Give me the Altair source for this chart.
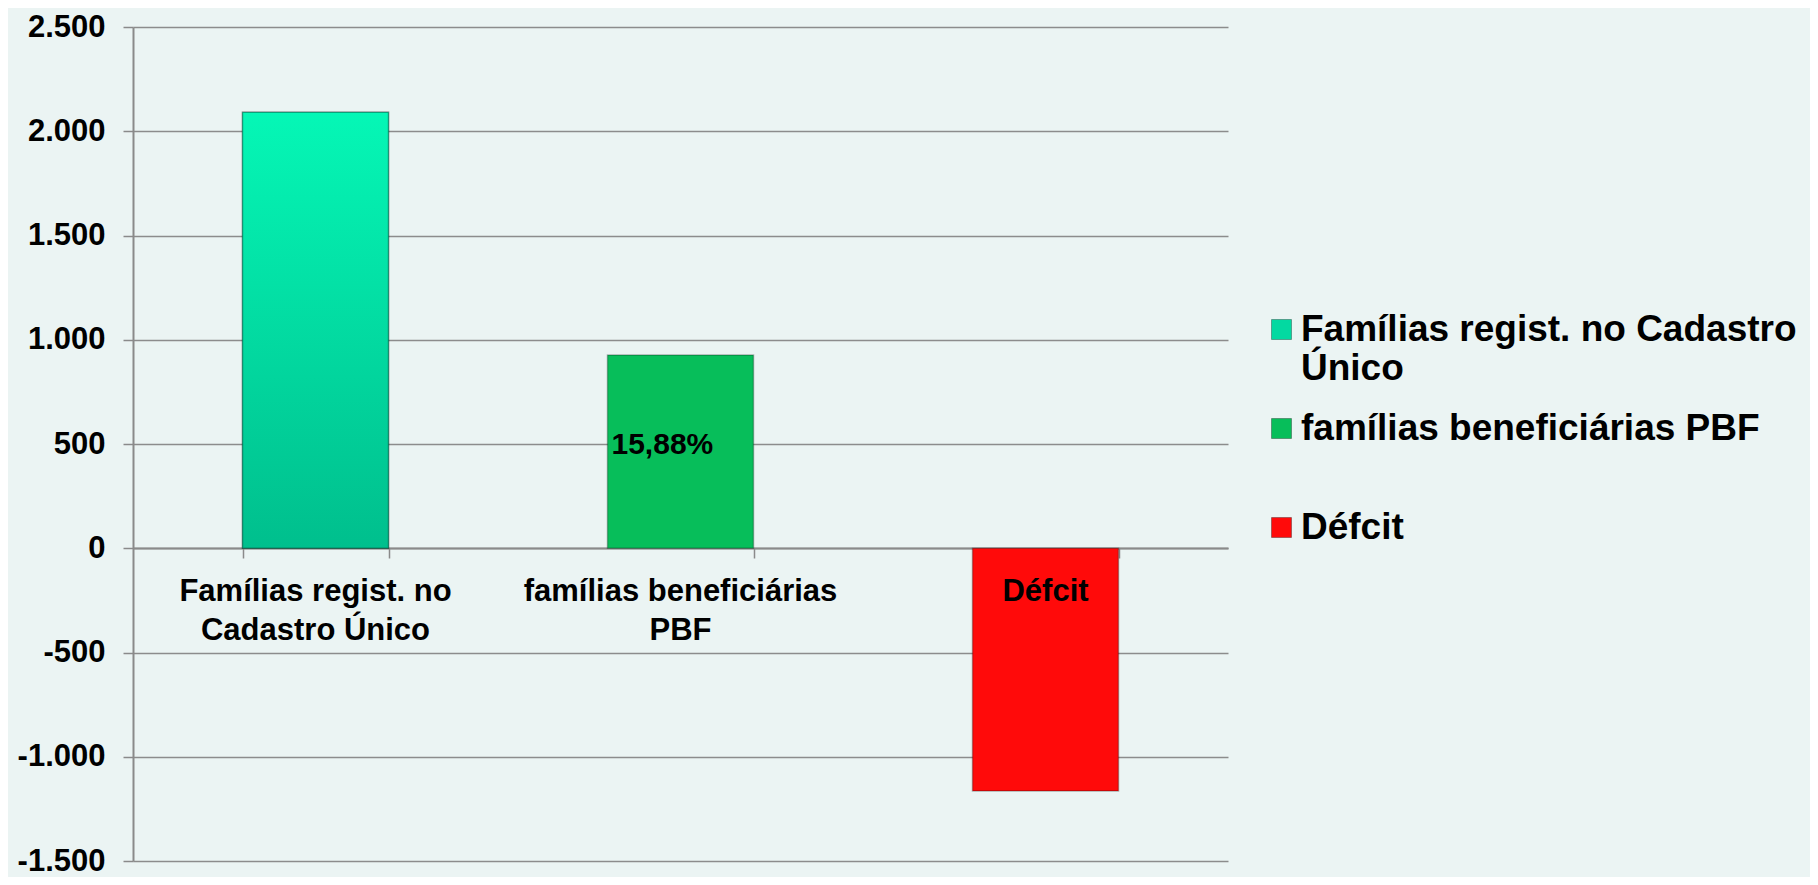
import altair as alt
import pandas as pd

# ---- data ----
categories = ["Famílias regist. no Cadastro Único", "famílias beneficiárias PBF", "Défcit"]
values = [2091, 927, -1164]
axis_labels = ["Famílias regist. no\nCadastro Único", "famílias beneficiárias\nPBF", "Défcit"]
legend_labels = [["Famílias regist. no Cadastro", "Único"], ["\u00a0famílias beneficiárias PBF", ""], ["Défcit"]]
bar_labels = ["", "15,88%", ""]
bar_colors = ["#03d9a1", "#07be5a", "#ff0a0a"]
y_ticks = [-1500, -1000, -500, 0, 500, 1000, 1500, 2000, 2500]

df = pd.DataFrame({
    "cat": categories,
    "value": values,
    "axis_label": axis_labels,
    "bar_label": bar_labels,
})

FONT = "Liberation Sans"

# legend label expression (multi-line labels)
def js_arr(lines):
    return "[" + ",".join("'" + l + "'" for l in lines) + "]"

label_expr = ""
for c, lines in zip(categories, legend_labels):
    label_expr += f"datum.label == '{c}' ? {js_arr(lines)} : "
label_expr += "datum.label"

x_enc = alt.X("cat:N", sort=categories,
              scale=alt.Scale(paddingInner=0.6, paddingOuter=0.3),
              axis=alt.Axis(labels=False, title=None, ticks=True, tickBand="extent",
                            tickSize=10, tickColor="#8a8a8a", tickWidth=1.5,
                            domainColor="#8a8a8a", domainWidth=2, offset=-313, grid=False))

y_scale = alt.Scale(domain=[-1500, 2500], nice=False)

base = alt.Chart(df)

bars = base.mark_bar(stroke="rgba(0,0,0,0.28)", strokeWidth=1.5).encode(
    x=x_enc,
    y=alt.Y("value:Q", scale=y_scale,
            axis=alt.Axis(title=None, values=y_ticks, grid=True, gridColor="#8c8c8c",
                          gridWidth=1.5, domainColor="#8a8a8a", domainWidth=2,
                          tickColor="#8a8a8a", tickSize=10, tickWidth=1.5,
                          labelFont=FONT, labelFontSize=31, labelFontWeight="bold",
                          labelColor="#000000", labelPadding=18,
                          labelExpr="(datum.value < 0 ? '-' : '') + replace(format(abs(datum.value), ','), ',', '.')")),
    color=alt.Color("cat:N", sort=categories,
                    scale=alt.Scale(domain=categories, range=bar_colors),
                    legend=alt.Legend(title=None, orient="none", legendX=1130, legendY=284,
                                      symbolType="square", symbolSize=400, symbolStrokeWidth=1,
                                      symbolStrokeColor="rgba(0,0,0,0.3)",
                                      labelFont=FONT, labelFontSize=37, labelFontWeight="bold",
                                      labelColor="#000000", labelOffset=1, rowPadding=22,
                                      labelLimit=700, padding=0, labelExpr=label_expr)),
)

# gradient sheen on the first bar
bar1 = base.transform_filter(alt.datum.cat == categories[0]).mark_bar(
    stroke="rgba(0,0,0,0.28)", strokeWidth=1.5,
    fill=alt.Gradient(gradient="linear", x1=0, y1=0, x2=0, y2=1,
                      stops=[alt.GradientStop(offset=0, color="#05f7b6"),
                             alt.GradientStop(offset=1, color="#00bf8d")])
).encode(x=alt.X("cat:N", sort=categories), y=alt.Y("value:Q", scale=y_scale))

xlabels = base.mark_text(font=FONT, fontSize=31, fontWeight="bold", color="#000000",
                         baseline="top", align="center", lineBreak="\n", lineHeight=39,
                         dy=29).encode(
    x=alt.X("cat:N", sort=categories),
    y=alt.datum(0),
    text="axis_label:N",
)

pct = base.transform_filter(alt.datum.bar_label != "").transform_calculate(
    mid="datum.value / 2").mark_text(
    font=FONT, fontSize=30, fontWeight="bold", color="#000000",
    align="left", baseline="middle", dx=-69, dy=-7).encode(
    x=alt.X("cat:N", sort=categories),
    y=alt.Y("mid:Q", scale=y_scale),
    text="bar_label:N",
)

chart = alt.layer(bars, bar1, xlabels, pct).properties(
    width=1095, height=834,
    autosize=alt.AutoSizeParams(type="none"),
    padding={"left": 125, "top": 19, "right": 582, "bottom": 16},
    background="#ebf4f3",
).configure_view(stroke=None)

chart.save("out.html", embed_options={"renderer": "svg", "actions": False})
